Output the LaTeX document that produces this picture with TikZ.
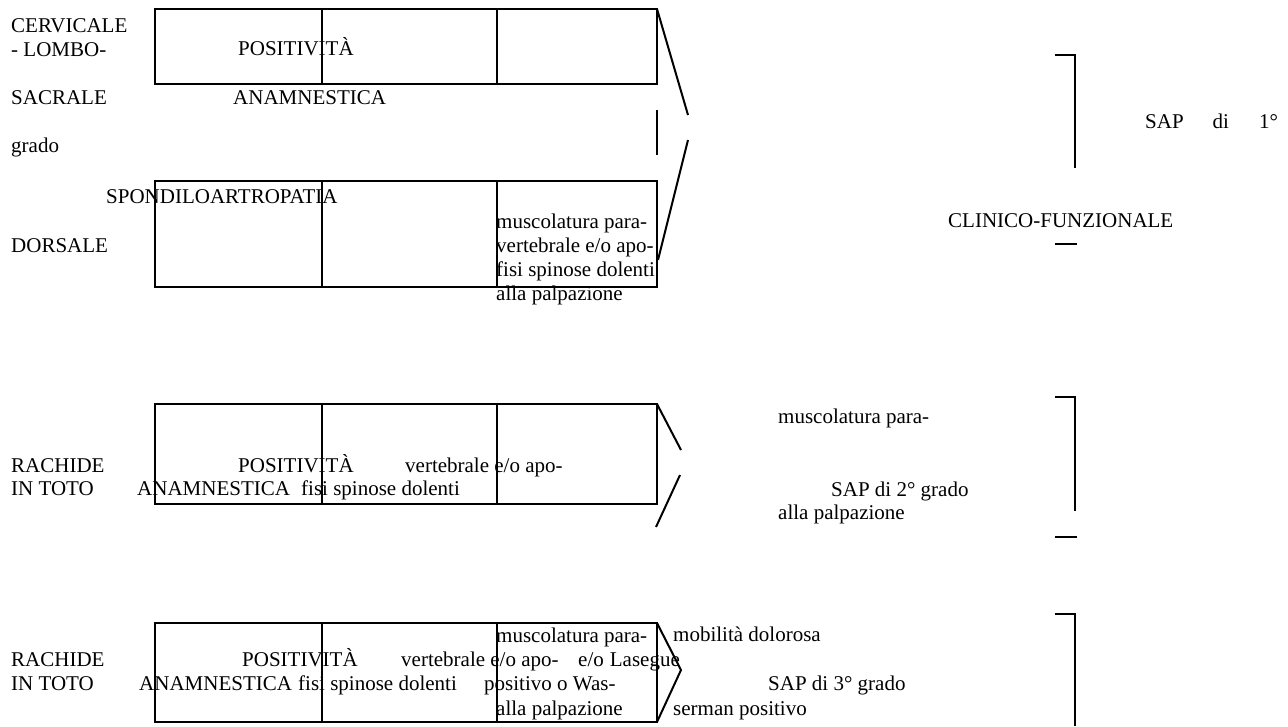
\documentclass[tikz,border=0pt]{standalone}
\usepackage{fontspec}
\setmainfont{Liberation Serif}
\usetikzlibrary{positioning}

\begin{document}
\begin{tikzpicture}[
    x=1pt, y=-1pt,
    cell/.style={rectangle, draw, line width=2pt, inner sep=0pt, outer sep=0pt},
    lbl/.style={inner sep=0pt, anchor=base west, font=\fontsize{21}{24}\selectfont},
    rule/.style={line width=2pt}
  ]
  \useasboundingbox (0,0) rectangle (1288,726);

  % Boxes
  \node[cell, minimum width=167pt, minimum height=75pt, anchor=north west] (a1) at (155,9) {};
  \node[cell, minimum width=175pt, minimum height=75pt, right=0pt of a1] (a2) {};
  \node[cell, minimum width=160pt, minimum height=75pt, right=0pt of a2] (a3) {};

  \node[cell, minimum width=167pt, minimum height=106pt, anchor=north west] (b1) at (155,181) {};
  \node[cell, minimum width=175pt, minimum height=106pt, right=0pt of b1] (b2) {};
  \node[cell, minimum width=160pt, minimum height=106pt, right=0pt of b2] (b3) {};

  \node[cell, minimum width=167pt, minimum height=100pt, anchor=north west] (c1) at (155,404) {};
  \node[cell, minimum width=175pt, minimum height=100pt, right=0pt of c1] (c2) {};
  \node[cell, minimum width=160pt, minimum height=100pt, right=0pt of c2] (c3) {};

  \node[cell, minimum width=167pt, minimum height=99pt, anchor=north west] (d1) at (155,623) {};
  \node[cell, minimum width=175pt, minimum height=99pt, right=0pt of d1] (d2) {};
  \node[cell, minimum width=160pt, minimum height=99pt, right=0pt of d2] (d3) {};

  % Labels, spondiloartropatia
  \node[lbl] (cerv) at (11,32) {CERVICALE};
  \node[lbl] (lombo) at (11,56) {- LOMBO-};
  \node[lbl] (sacr) at (11,104) {SACRALE};
  \node[lbl] (grado) at (11,152) {grado};
  \node[lbl] (posA) at (238,55) {POSITIVITÀ};
  \node[lbl] (anaA) at (233,104) {ANAMNESTICA};
  \node[lbl] (spondA) at (106,203) {SPONDILOARTROPATIA};
  \node[lbl] (dors) at (11,252) {DORSALE};
  \node[lbl] (muscB) at (496,228) {muscolatura para-};
  \node[lbl] (vertB) at (496,252) {vertebrale e/o apo-};
  \node[lbl] (fisiB) at (496,276) {fisi spinose dolenti};
  \node[lbl] (palpB) at (496,300) {alla palpazione};
  \node[lbl] (sap1) at (1145,128) {SAP\hspace{29pt}di\hspace{30pt}1°};
  \node[lbl] (clin) at (948,227) {CLINICO-FUNZIONALE};

  % Labels, rachide 2
  \node[lbl] (rachC) at (11,472) {RACHIDE};
  \node[lbl] (totoC) at (11,495) {IN TOTO};
  \node[lbl] (posC) at (238,472) {POSITIVITÀ};
  \node[lbl] (vertC) at (405,472) {vertebrale e/o apo-};
  \node[lbl] (anaC) at (137,495) {ANAMNESTICA};
  \node[lbl] (fisiC) at (301,495) {fisi spinose dolenti};
  \node[lbl] (muscC) at (778,423) {muscolatura para-};
  \node[lbl] (sap2) at (831,496) {SAP di 2° grado};
  \node[lbl] (palpC) at (778,519) {alla palpazione};

  % Labels, rachide 3
  \node[lbl] (muscD) at (496,642) {muscolatura para-};
  \node[lbl] (rachD) at (11,666) {RACHIDE};
  \node[lbl] (posD) at (242,666) {POSITIVITÀ};
  \node[lbl] (vertD) at (401,666) {vertebrale e/o apo-};
  \node[lbl] (lase) at (578,666) {e/o\hspace{6pt}Lasegue};
  \node[lbl] (totoD) at (11,690) {IN TOTO};
  \node[lbl] (anaD) at (139,690) {ANAMNESTICA};
  \node[lbl] (fisiD) at (298,690) {fisi spinose dolenti};
  \node[lbl] (wasD) at (484,690) {positivo o Was-};
  \node[lbl] (palpD) at (496,715) {alla palpazione};
  \node[lbl] (mobil) at (673,641) {mobilità dolorosa};
  \node[lbl] (sap3) at (768,690) {SAP di 3° grado};
  \node[lbl] (serm) at (673,715) {serman positivo};

  % Chevrons
  \coordinate (tipA) at (688,115);
  \coordinate (tipB) at (688,140);
  \coordinate (endB) at (658,260);
  \coordinate (dashT) at (657,110);
  \coordinate (dashB) at (657,155);
  \draw[rule] (a3.north east) -- (tipA);
  \draw[rule] (tipB) -- (endB);
  \draw[rule] (dashT) -- (dashB);

  \coordinate (tipC1) at (681,450);
  \coordinate (tipC2) at (680,475);
  \coordinate (endC) at (656,527);
  \draw[rule] (c3.north east) -- (tipC1);
  \draw[rule] (tipC2) -- (endC);

  \coordinate (tipD) at (681,670);
  \draw[rule] (d3.north east) -- (tipD) -- (d3.south east);

  % Brackets
  \coordinate (br1a) at (1055,55);
  \coordinate (br1b) at (1075,55);
  \coordinate (br1c) at (1075,168);
  \draw[rule] (br1a) -- (br1b) -- (br1c);
  \coordinate (dash1a) at (1055,244);
  \coordinate (dash1b) at (1077,244);
  \draw[rule] (dash1a) -- (dash1b);

  \coordinate (br2a) at (1055,397);
  \coordinate (br2b) at (1075,397);
  \coordinate (br2c) at (1075,511);
  \draw[rule] (br2a) -- (br2b) -- (br2c);
  \coordinate (dash2a) at (1055,537);
  \coordinate (dash2b) at (1077,537);
  \draw[rule] (dash2a) -- (dash2b);

  \coordinate (br3a) at (1055,614);
  \coordinate (br3b) at (1075,614);
  \coordinate (br3c) at (1075,726);
  \draw[rule] (br3a) -- (br3b) -- (br3c);
\end{tikzpicture}
\end{document}
